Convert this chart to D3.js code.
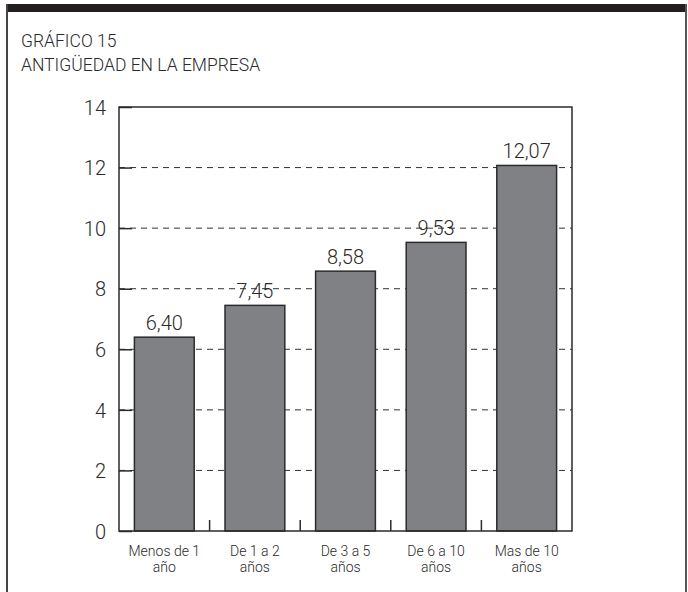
<!DOCTYPE html>
<html>
<head>
<meta charset="utf-8">
<script src="https://cdn.jsdelivr.net/npm/d3@7"></script>
<style>
  html, body { margin: 0; padding: 0; background: #fff; }
  svg { display: block; }
  text { font-family: Roboto, "Liberation Sans", Arial, sans-serif; font-weight: 300; fill: #2a2a2a; }
</style>
</head>
<body>
<svg id="chart" width="688" height="592"></svg>
<script>
const titleLines = ["GRÁFICO 15", "ANTIGÜEDAD EN LA EMPRESA"];
const categories = [["Menos de 1", "año"], ["De 1 a 2", "años"], ["De 3 a 5", "años"], ["De 6 a 10", "años"], ["Mas de 10", "años"]];
const values = [6.40, 7.45, 8.58, 9.53, 12.07];
const valueLabels = ["6,40", "7,45", "8,58", "9,53", "12,07"];
const yTicks = [0, 2, 4, 6, 8, 10, 12, 14];

const svg = d3.select("#chart");

// frame
svg.append("rect").attr("x", 6).attr("y", 4).attr("width", 681).attr("height", 8).attr("fill", "#231f20");
svg.append("line").attr("x1", 7).attr("x2", 7).attr("y1", 4).attr("y2", 592).attr("stroke", "#444").attr("stroke-width", 2);
svg.append("line").attr("x1", 686).attr("x2", 686).attr("y1", 4).attr("y2", 592).attr("stroke", "#555").attr("stroke-width", 2);

// title
svg.selectAll("text.title").data(titleLines).enter().append("text")
  .attr("class", "title")
  .attr("x", 21).attr("y", (d, i) => 47 + i * 24)
  .attr("font-size", 17.5)
  .text(d => d);

const pLeft = 119, pRight = 572, pTop = 107, pBottom = 531;
const x = d3.scaleBand().domain(d3.range(categories.length)).range([pLeft, pRight]).paddingInner(0.34).paddingOuter(0.17);
const y = d3.scaleLinear().domain([0, 14]).range([pBottom, pTop]);

// dashed grid
svg.append("g").selectAll("line").data(yTicks.filter(t => t > 0 && t < 14)).enter().append("line")
  .attr("x1", pLeft).attr("x2", pRight)
  .attr("y1", d => y(d)).attr("y2", d => y(d))
  .attr("stroke", "#333").attr("stroke-width", 1).attr("stroke-dasharray", "6,5");

// bars
svg.append("g").selectAll("rect").data(values).enter().append("rect")
  .attr("x", (d, i) => x(i))
  .attr("width", x.bandwidth())
  .attr("y", d => y(d))
  .attr("height", d => y(0) - y(d))
  .attr("fill", "#808184")
  .attr("stroke", "#2b2b2b").attr("stroke-width", 1.5);

// plot box
svg.append("path")
  .attr("d", `M${pLeft},${pBottom}V${pTop}H${pRight}V${pBottom}Z`)
  .attr("fill", "none").attr("stroke", "#2b2b2b").attr("stroke-width", 1.5);

// y axis
const yAxis = d3.axisLeft(y).tickValues(yTicks).tickSize(-13).tickPadding(13).tickFormat(d3.format("d"));
const gy = svg.append("g").attr("transform", `translate(${pLeft},0)`).call(yAxis);
gy.select(".domain").remove();
gy.selectAll(".tick line").attr("stroke", "#2b2b2b").attr("stroke-width", 1.5);
gy.selectAll(".tick text").attr("font-size", 20).attr("font-family", null).attr("fill", null).attr("dy", "0.36em");

// band separator ticks
const step = x.step();
svg.append("g").selectAll("line").data(d3.range(1, categories.length)).enter().append("line")
  .attr("x1", i => x(i) - step * x.paddingInner() / 2)
  .attr("x2", i => x(i) - step * x.paddingInner() / 2)
  .attr("y1", pBottom).attr("y2", pBottom - 11)
  .attr("stroke", "#2b2b2b").attr("stroke-width", 1.5);

// value labels
svg.append("g").selectAll("text").data(values).enter().append("text")
  .attr("x", (d, i) => x(i) + x.bandwidth() / 2)
  .attr("y", d => y(d) - 7)
  .attr("text-anchor", "middle")
  .attr("font-size", 20)
  .text((d, i) => valueLabels[i]);

// category labels
const cat = svg.append("g").selectAll("text").data(categories).enter().append("text")
  .attr("text-anchor", "middle")
  .attr("font-size", 14)
  .attr("x", (d, i) => x(i) + x.bandwidth() / 2)
  .attr("y", 556);
cat.selectAll("tspan").data(d => d).enter().append("tspan")
  .attr("x", function() { return d3.select(this.parentNode).attr("x"); })
  .attr("dy", (d, j) => j === 0 ? 0 : 15.5)
  .text(d => d);
</script>
</body>
</html>
